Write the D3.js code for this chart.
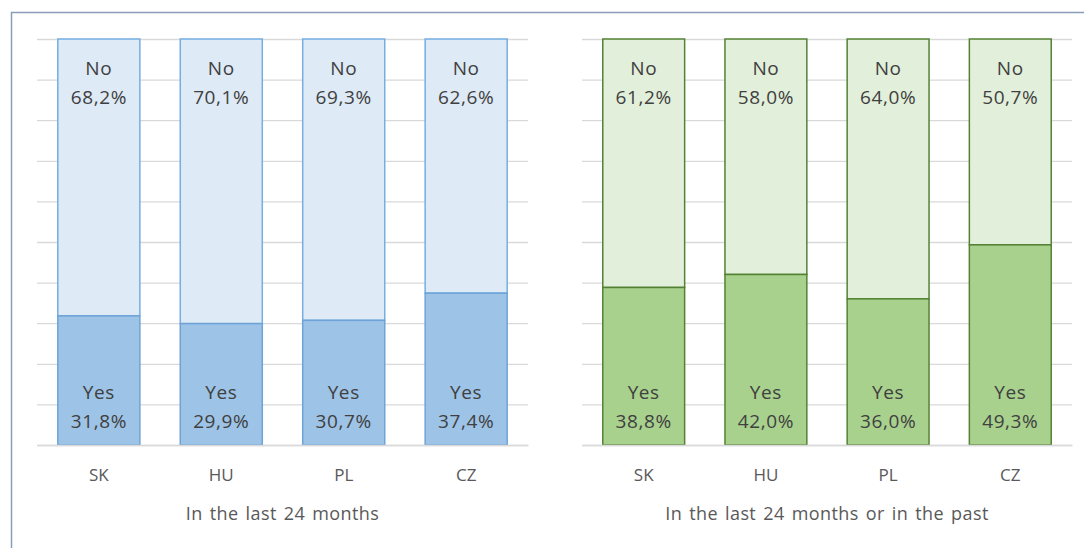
<!DOCTYPE html>
<html>
<head>
<meta charset="utf-8">
<script src="https://cdn.jsdelivr.net/npm/d3@7"></script>
<style>
  body { margin: 0; background: #fff; }
  svg { display: block; font-family: "Open Sans", sans-serif; }
</style>
</head>
<body>
<div id="chart"></div>
<script>
// chart data
const countries = ["SK", "HU", "PL", "CZ"];
const yes24 = [31.8, 29.9, 30.7, 37.4];
const no24 = [68.2, 70.1, 69.3, 62.6];
const yesPast = [38.8, 42.0, 36.0, 49.3];
const noPast = [61.2, 58.0, 64.0, 50.7];
const titles = ["In the last 24 months", "In the last 24 months or in the past"];

const width = 1084;
const height = 548;

const svg = d3.create("svg")
    .attr("width", width)
    .attr("height", height)
    .attr("viewBox", [0, 0, width, height]);

// outer frame (only top and left edges are visible)
svg.append("path")
    .attr("d", `M11.5,${height}V12.5H${width}`)
    .attr("fill", "none")
    .attr("stroke", "#8a9cb8")
    .attr("stroke-width", 1.5);

const y = d3.scaleLinear().domain([0, 100]).range([445, 39]);
const fmt = v => v.toFixed(1).replace(".", ",") + "%";

const panels = [
    { x0: 37, x1: 528, yes: yes24, no: no24, title: titles[0],
      light: "#deeaf6", dark: "#9dc3e6", stroke: "#74aee2", split: "#6fa3d8" },
    { x0: 582, x1: 1072, yes: yesPast, no: noPast, title: titles[1],
      light: "#e2efda", dark: "#a9d18e", stroke: "#548235", split: "#548235" }
];

for (const p of panels) {
    const x = d3.scaleBand().domain(countries).range([p.x0, p.x1]).paddingInner(0.33).paddingOuter(0.17);
    const g = svg.append("g");

    // gridlines
    g.append("g")
        .attr("transform", `translate(${p.x0},0)`)
        .call(d3.axisLeft(y).ticks(10).tickSize(-(p.x1 - p.x0)).tickFormat(""))
        .call(a => a.select(".domain").remove())
        .call(a => a.selectAll("line").attr("stroke", "#d9d9d9").attr("stroke-width", 1.3));

    const rows = countries.map((c, i) => ({ c, yes: p.yes[i], no: p.no[i] }));

    const bar = g.selectAll(".bar").data(rows).join("g");

    // No segment (top)
    bar.append("rect")
        .attr("x", d => x(d.c))
        .attr("width", x.bandwidth())
        .attr("y", d => y(d.yes + d.no))
        .attr("height", d => y(d.yes) - y(d.yes + d.no))
        .attr("fill", p.light)
        .attr("stroke", p.stroke)
        .attr("stroke-width", 1.5);

    // Yes segment (bottom)
    bar.append("rect")
        .attr("x", d => x(d.c))
        .attr("width", x.bandwidth())
        .attr("y", d => y(d.yes))
        .attr("height", d => y(0) - y(d.yes))
        .attr("fill", p.dark)
        .attr("stroke", p.split)
        .attr("stroke-width", 1.5);

    const lbl = bar.append("g")
        .attr("text-anchor", "middle")
        .attr("fill", "#404040")
        .attr("font-size", 19)
        .attr("letter-spacing", 0.6);

    const cx = d => x(d.c) + x.bandwidth() / 2;
    lbl.append("text").attr("x", cx).attr("y", d => y(d.yes + d.no) + 36).text("No");
    lbl.append("text").attr("x", cx).attr("y", d => y(d.yes + d.no) + 65).text(d => fmt(d.no));
    lbl.append("text").attr("x", cx).attr("y", y(0) - 46).text("Yes");
    lbl.append("text").attr("x", cx).attr("y", y(0) - 17).text(d => fmt(d.yes));

    // category axis
    g.append("g")
        .attr("transform", `translate(0,${y(0)})`)
        .call(d3.axisBottom(x).tickSize(0).tickPadding(24))
        .call(a => a.select(".domain").attr("stroke", "#d9d9d9").attr("stroke-width", 1.3))
        .call(a => a.selectAll("text").attr("fill", "#595959").attr("font-size", 17)
            .attr("font-family", "Open Sans, sans-serif"));

    g.append("text")
        .attr("x", (p.x0 + p.x1) / 2)
        .attr("y", 520)
        .attr("text-anchor", "middle")
        .attr("fill", "#595959")
        .attr("font-size", 18)
        .attr("letter-spacing", 0.4)
        .attr("word-spacing", 2)
        .text(p.title);
}

document.getElementById("chart").appendChild(svg.node());
</script>
</body>
</html>
